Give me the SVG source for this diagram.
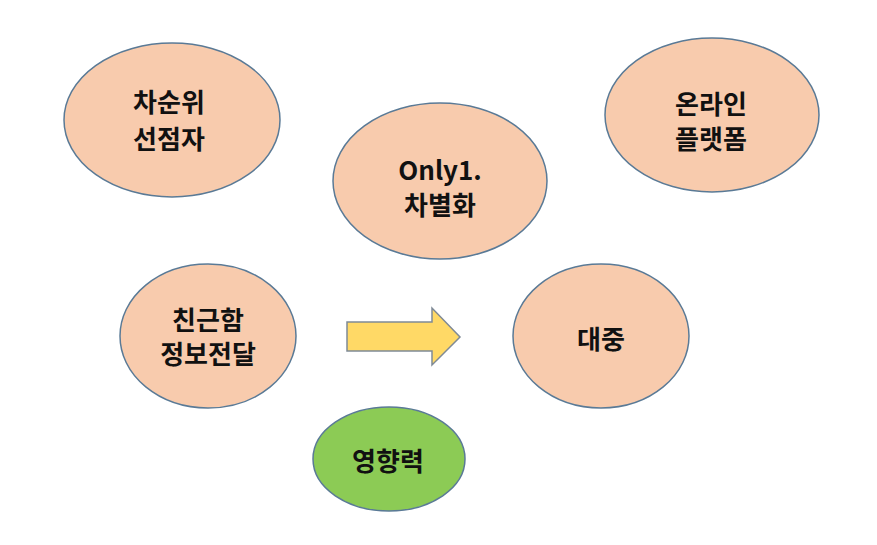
<svg xmlns="http://www.w3.org/2000/svg" width="877" height="545" viewBox="0 0 877 545">
<style>
.n{fill:#F8CBAD;stroke:#5A7A96;stroke-width:1.5}
.g{fill:#8CCB55;stroke:#5A7A96;stroke-width:1.5}
.t{font-family:"Noto Sans CJK KR","Noto Sans",sans-serif;font-weight:bold;font-size:26px;fill:#111;text-anchor:middle;dominant-baseline:central}
</style>
<rect width="877" height="545" fill="#fff"/>
<g id="n1"><ellipse class="n" cx="172" cy="120" rx="108" ry="77"/><text class="t" x="169" y="100">차순위</text><text class="t" x="169" y="137">선점자</text></g>
<g id="n2"><ellipse class="n" cx="440" cy="181" rx="107" ry="78"/><text class="t" x="440" y="168">Only1.</text><text class="t" x="440" y="203">차별화</text></g>
<g id="n3"><ellipse class="n" cx="712" cy="115" rx="107" ry="77"/><text class="t" x="711" y="102">온라인</text><text class="t" x="711" y="137">플랫폼</text></g>
<g id="n4"><ellipse class="n" cx="208" cy="336" rx="88" ry="72"/><text class="t" x="208" y="318">친근함</text><text class="t" x="208" y="352">정보전달</text></g>
<g id="n5"><ellipse class="n" cx="601" cy="336" rx="88" ry="72"/><text class="t" x="601" y="337">대중</text></g>
<g id="n6"><ellipse class="g" cx="389" cy="459" rx="76" ry="52"/><text class="t" x="388" y="459">영향력</text></g>
<g id="connectors"><polygon points="347,322 432,322 432,308 460,337 432,365 432,351 347,351" fill="#FFD966" stroke="#7F8A96" stroke-width="1.5"/></g>
</svg>
